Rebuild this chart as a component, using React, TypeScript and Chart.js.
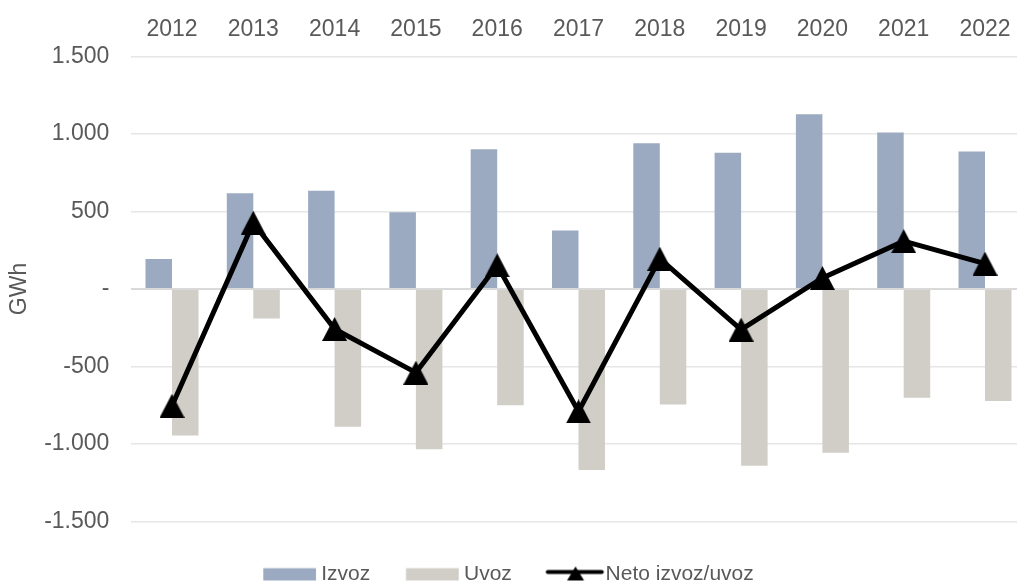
import { useEffect, useRef } from "react";
import { Chart, registerables } from "chart.js";

Chart.register(...registerables);

const years = ["2012", "2013", "2014", "2015", "2016", "2017", "2018", "2019", "2020", "2021", "2022"];
const izvoz = [194, 619, 634, 495, 903, 377, 941, 879, 1129, 1011, 888];
const uvoz = [-946, -191, -890, -1035, -750, -1168, -745, -1142, -1058, -702, -724];
const neto = [-754, 428, -258, -540, 153, -791, 196, -262, 71, 309, 164];

const yTickValues = [-1500, -1000, -500, 0, 500, 1000, 1500];
const yTickLabels = ["-1.500", "-1.000", "-500", "-", "500", "1.000", "1.500"];

const seriesNames = ["Izvoz", "Uvoz", "Neto izvoz/uvoz"];

const IZVOZ_COLOR = "#9BAAC0";
const UVOZ_COLOR = "#D0CEC6";
const TEXT_COLOR = "#595959";
const FONT_FAMILY = "'Liberation Sans', Arial, sans-serif";

function makeCanvas(w: number, h: number, draw: (ctx: CanvasRenderingContext2D) => void) {
  const c = document.createElement("canvas");
  c.width = w;
  c.height = h;
  const ctx = c.getContext("2d")!;
  draw(ctx);
  return c;
}

export default function App() {
  const ref = useRef<HTMLCanvasElement>(null);

  useEffect(() => {
    const canvas = ref.current!;

    const marker = makeCanvas(25, 24, (ctx) => {
      ctx.fillStyle = "#000";
      ctx.beginPath();
      ctx.moveTo(12.5, 0);
      ctx.lineTo(25, 24);
      ctx.lineTo(0, 24);
      ctx.closePath();
      ctx.fill();
    });

    const LW = 72;
    const LH = 24;
    const legendBar = (color: string) =>
      makeCanvas(LW, LH, (ctx) => {
        ctx.fillStyle = color;
        ctx.fillRect(12.25, 5.7, 52.7, 12.3);
      });
    const legendLine = makeCanvas(LW, LH, (ctx) => {
      ctx.strokeStyle = "#000";
      ctx.lineWidth = 4;
      ctx.lineCap = "round";
      ctx.beginPath();
      ctx.moveTo(12.5, 9.5);
      ctx.lineTo(66.5, 9.5);
      ctx.stroke();
      ctx.fillStyle = "#000";
      ctx.beginPath();
      ctx.moveTo(40.25, 4);
      ctx.lineTo(48.75, 18);
      ctx.lineTo(31.75, 18);
      ctx.closePath();
      ctx.fill();
    });
    const legendImages = [legendBar(IZVOZ_COLOR), legendBar(UVOZ_COLOR), legendLine];

    const chart = new Chart(canvas, {
      type: "bar",
      data: {
        labels: years,
        datasets: [
          {
            type: "bar",
            label: seriesNames[0],
            data: izvoz,
            backgroundColor: IZVOZ_COLOR,
            barPercentage: 1,
            categoryPercentage: 0.652,
            order: 2,
          },
          {
            type: "bar",
            label: seriesNames[1],
            data: uvoz,
            backgroundColor: UVOZ_COLOR,
            barPercentage: 1,
            categoryPercentage: 0.652,
            order: 2,
          },
          {
            type: "line",
            label: seriesNames[2],
            data: neto,
            borderColor: "#000",
            backgroundColor: "#000",
            borderWidth: 5,
            tension: 0,
            pointStyle: marker as any,
            pointRadius: 12,
            pointHoverRadius: 12,
            order: 0,
          } as any,
        ],
      },
      options: {
        responsive: false,
        animation: false,
        devicePixelRatio: 1,
        layout: { autoPadding: false, padding: { left: -8.6, right: 4.35, top: 0, bottom: 0 } },
        plugins: {
          tooltip: { enabled: false },
          legend: {
            position: "bottom",
            title: { display: true, text: "", font: { size: 1 }, padding: { top: 5.8, bottom: 0 } },
            labels: {
              usePointStyle: true,
              pointStyleWidth: 47.5,
              padding: 35.7,
              color: TEXT_COLOR,
              font: { size: 21, family: FONT_FAMILY },
              generateLabels: () =>
                seriesNames.map((name, i) => ({
                  text: name,
                  pointStyle: legendImages[i] as any,
                  fillStyle: "transparent",
                  strokeStyle: "transparent",
                  lineWidth: 0,
                  hidden: false,
                  datasetIndex: i,
                  fontColor: TEXT_COLOR,
                })),
            },
          },
        },
        scales: {
          x: {
            type: "category",
            position: "top",
            offset: true,
            grid: { display: false, drawTicks: false },
            border: { display: false },
            ticks: {
              color: TEXT_COLOR,
              font: { size: 23, family: FONT_FAMILY },
              padding: 13.5,
              maxRotation: 0,
              autoSkip: false,
            },
            afterFit: (s: any) => {
              s.height = 56.7;
            },
          },
          y: {
            type: "linear",
            min: -1500,
            max: 1500,
            afterBuildTicks: (s: any) => {
              s.ticks = yTickValues.map((v) => ({ value: v }));
            },
            grid: {
              drawTicks: false,
              color: (c: any) => (c.tick && c.tick.value === 0 ? "#D9D9D9" : "#E6E6E6"),
              lineWidth: (c: any) => (c.tick && c.tick.value === 0 ? 2 : 1.5),
            },
            border: { display: false },
            ticks: {
              color: TEXT_COLOR,
              font: { size: 23, family: FONT_FAMILY },
              padding: 22,
              callback: (v: any) => {
                const i = yTickValues.indexOf(Number(v));
                return i >= 0 ? yTickLabels[i] : "";
              },
            },
            title: {
              display: true,
              text: "GWh",
              color: TEXT_COLOR,
              font: { size: 23, family: FONT_FAMILY },
              padding: { top: 14.5, bottom: 0 },
            },
            afterFit: (s: any) => {
              s.width = 139.95;
            },
          },
        },
      },
    });

    return () => chart.destroy();
  }, []);

  return (
    <div style={{ position: "fixed", left: 0, top: 0, width: 1030, height: 595, overflow: "hidden", background: "#fff" }}>
      <canvas ref={ref} width={1030} height={595} style={{ width: 1030, height: 595, display: "block" }} />
    </div>
  );
}
